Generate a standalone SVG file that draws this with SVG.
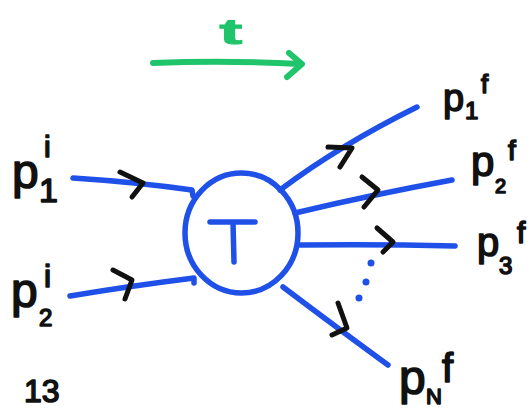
<svg xmlns="http://www.w3.org/2000/svg" width="532" height="411" viewBox="0 0 532 411">
<style>
.wire{fill:none;stroke:#1f50e8;stroke-width:5.5;stroke-linecap:round;stroke-linejoin:round}
.chev{fill:none;stroke:#111;stroke-width:5;stroke-linecap:round;stroke-linejoin:round}
.dot{fill:#1f50e8}
.lbl{font-family:"Liberation Sans",Arial,sans-serif;fill:#111;stroke:#111;stroke-width:1.6;stroke-linejoin:round}
.green{stroke:#20c46b;stroke-width:6;fill:none;stroke-linecap:round;stroke-linejoin:round}
</style>
<rect width="532" height="411" fill="#ffffff"/>

<g id="time-arrow">
<path class="green" d="M153,63 Q225,60 301,64"/>
<path class="green" d="M289,53 L302,64 L287,77"/>
<text transform="translate(231,44) scale(1.9,1)" text-anchor="middle" font-family="Liberation Sans, Arial, sans-serif" font-weight="bold" font-size="36" fill="#20c46b" stroke="#20c46b" stroke-width="1">t</text>
</g>

<g id="T">
<ellipse cx="241.5" cy="233" rx="56.5" ry="60" class="wire"/>
<path class="wire" d="M210,222 L255,222 M233,222 L234,262"/>
</g>

<g id="connectors">
<path class="wire" d="M73,178 Q135,182 192,190 L193,196"/>
<path class="wire" d="M70,296 Q130,286 194,278 L194,283"/>
<path class="wire" d="M280,190 Q340,145 417,107"/>
<path class="wire" d="M295,213 Q370,195 452,180"/>
<path class="wire" d="M300,245 Q380,244 455,246"/>
<path class="wire" d="M283,287 Q340,330 388,365"/>
<polyline class="chev" points="120,172 143,183 132,197"/>
<polyline class="chev" points="113,270 132,280 125,299"/>
<polyline class="chev" points="328,147 352,148 340,167"/>
<polyline class="chev" points="362,177 378,190 364,207"/>
<polyline class="chev" points="377,228 393,242 383,252"/>
<polyline class="chev" points="338,303 347,328 332,335"/>
<circle class="dot" cx="371" cy="263" r="3.5"/>
<circle class="dot" cx="366" cy="282" r="3.5"/>
<circle class="dot" cx="359" cy="298" r="3.5"/>
</g>

<g id="p1i">
<text class="lbl" x="12" y="188" font-size="48">p</text>
<text class="lbl" x="39" y="202" font-size="34">1</text>
<text class="lbl" x="44" y="157" font-size="30">i</text>
</g>
<g id="p2i">
<text class="lbl" x="11" y="307" font-size="48">p</text>
<text class="lbl" x="39" y="326" font-size="24">2</text>
<text class="lbl" x="44" y="287" font-size="32">i</text>
</g>
<g id="p1f">
<text class="lbl" x="443" y="111" font-size="38">p</text>
<text class="lbl" x="465" y="119" font-size="24">1</text>
<text class="lbl" x="481" y="93" font-size="26">f</text>
</g>
<g id="p2f">
<text class="lbl" x="471" y="176" font-size="42">p</text>
<text class="lbl" x="495" y="193" font-size="20">2</text>
<text class="lbl" x="508" y="160" font-size="28">f</text>
</g>
<g id="p3f">
<text class="lbl" x="477" y="256" font-size="40">p</text>
<text class="lbl" x="499" y="274" font-size="24">3</text>
<text class="lbl" x="517" y="243" font-size="30">f</text>
</g>
<g id="pNf">
<text class="lbl" x="399" y="394" font-size="48">p</text>
<text class="lbl" x="426" y="404" font-size="22">N</text>
<text class="lbl" x="442" y="382" font-size="40">f</text>
</g>
<g id="page-number">
<text class="lbl" x="24" y="402" font-size="32">13</text>
</g>
</svg>
